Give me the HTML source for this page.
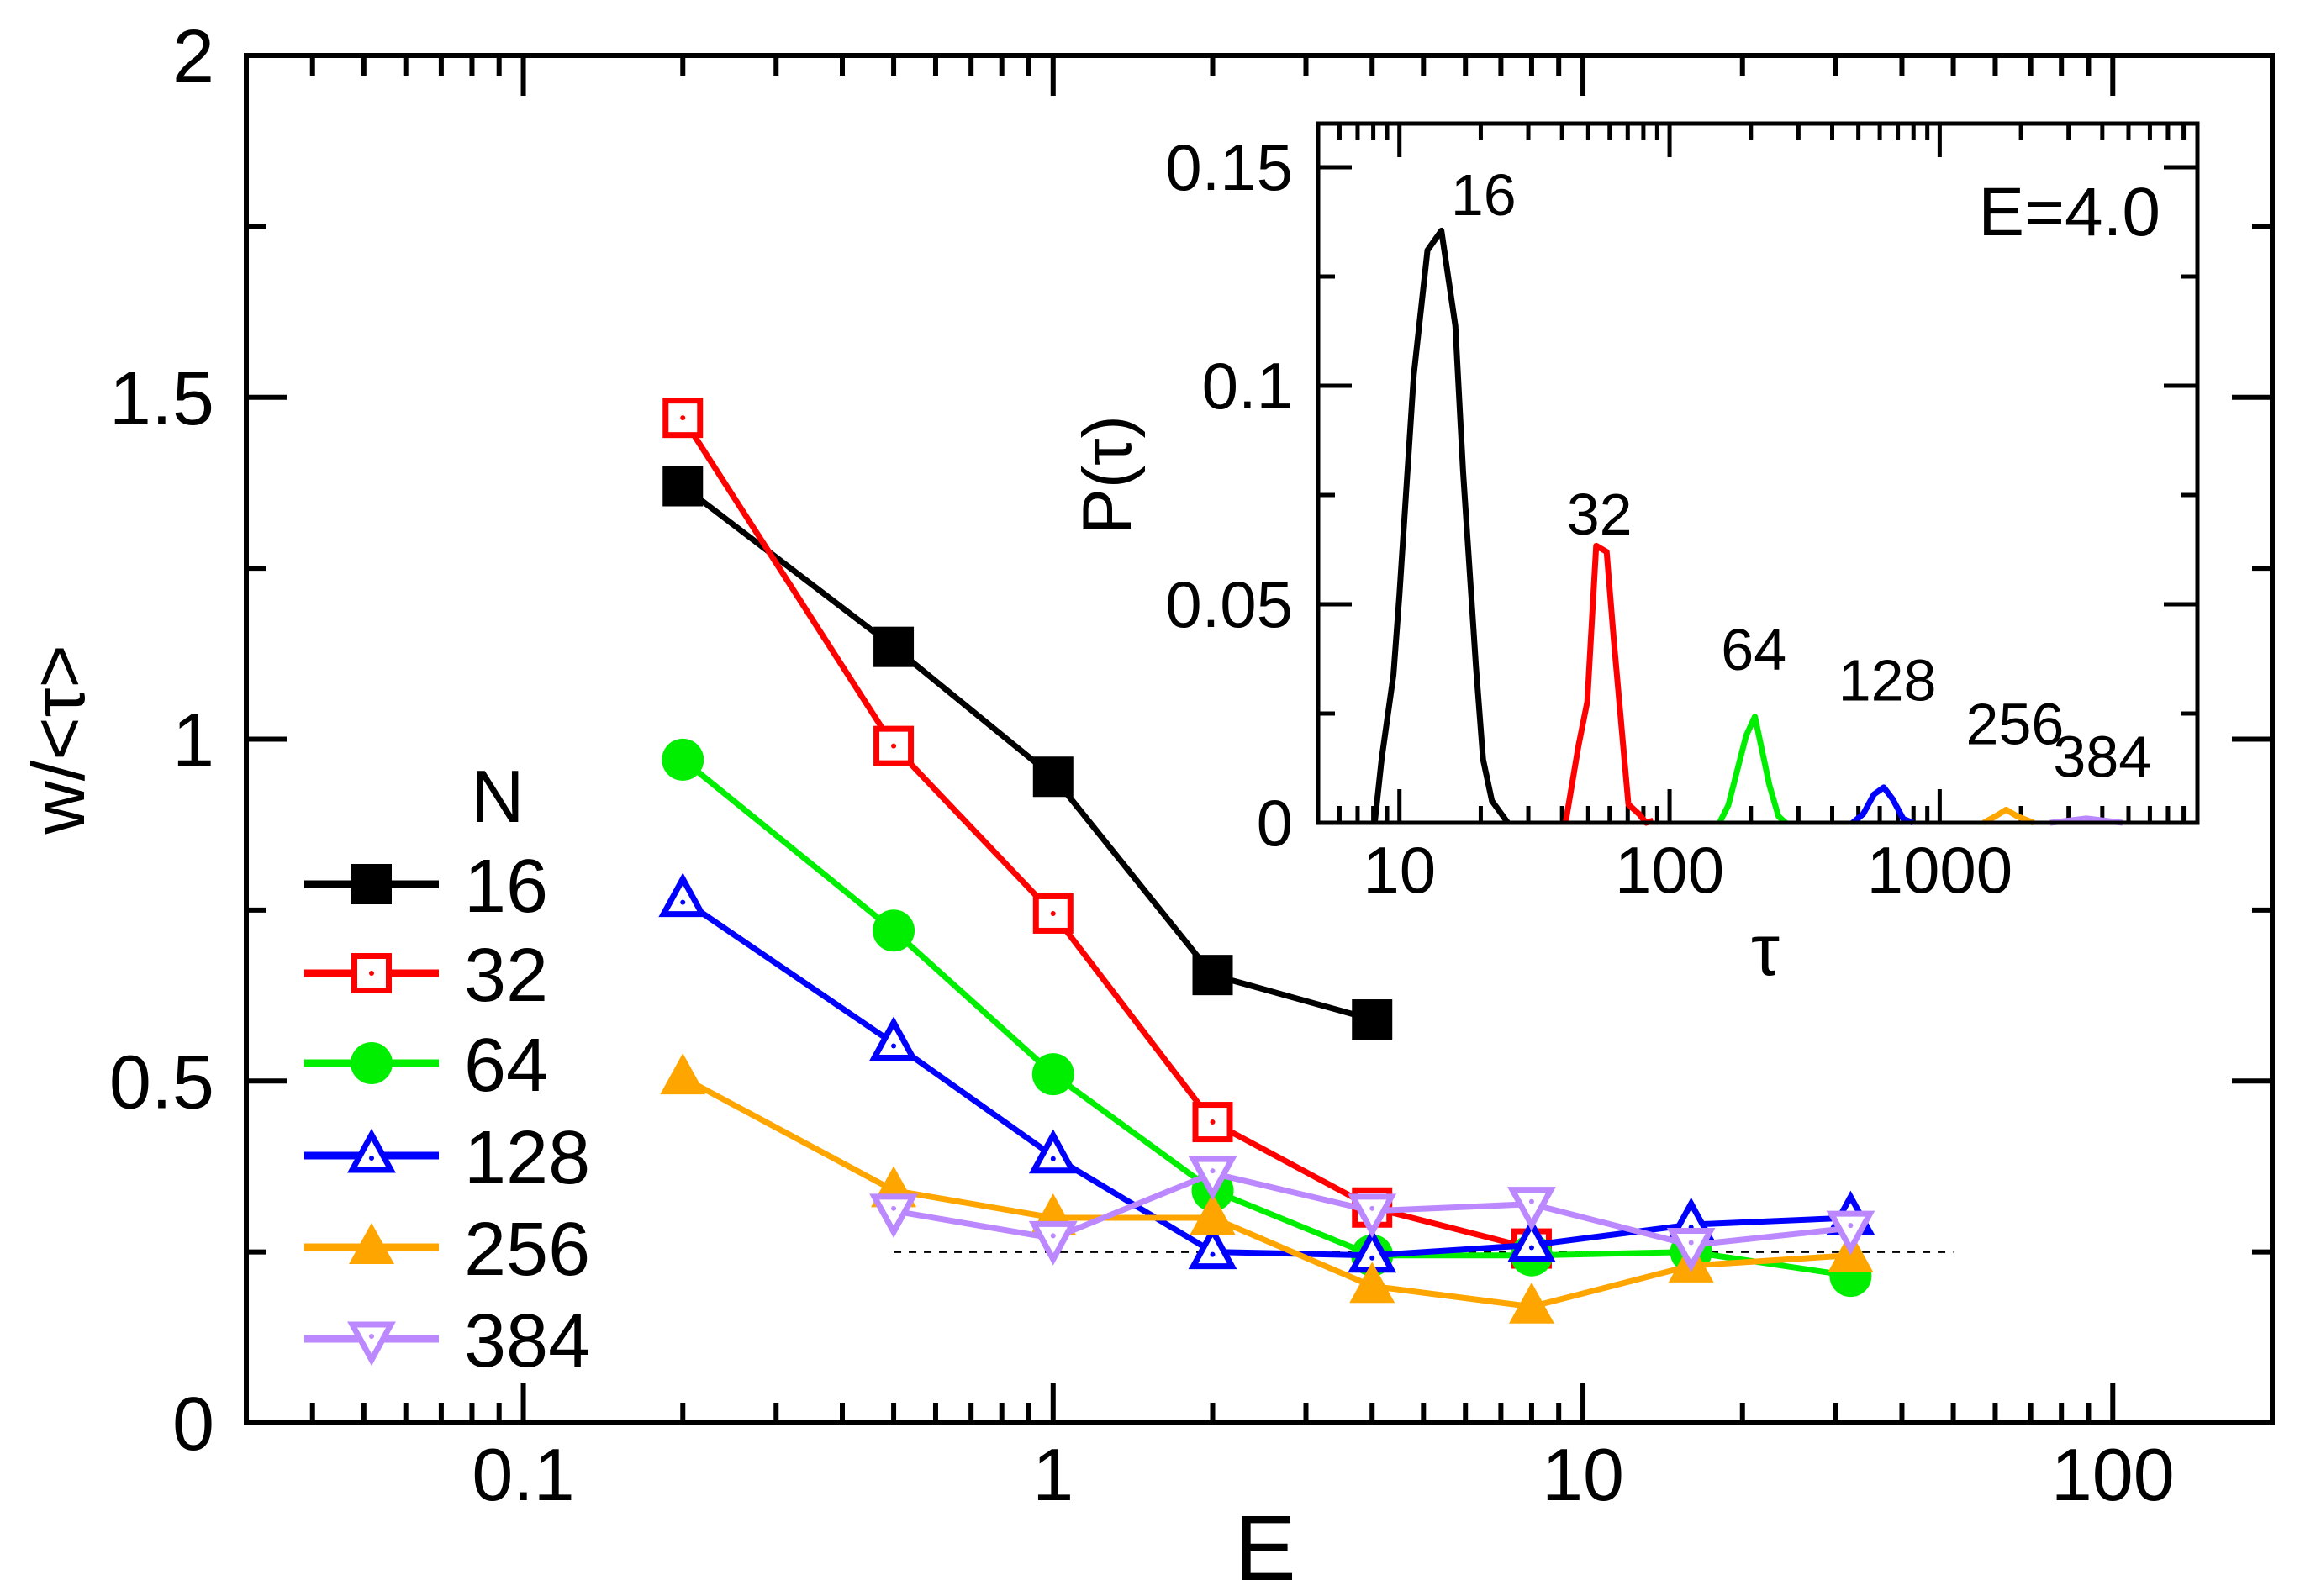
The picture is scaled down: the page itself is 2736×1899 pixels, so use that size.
<!DOCTYPE html>
<html><head><meta charset="utf-8">
<style>
html,body{margin:0;padding:0;background:#fff;}
svg{display:block;font-family:"Liberation Sans",sans-serif;}
</style></head>
<body>
<svg id="chart" width="2736" height="1899" viewBox="0 0 2736 1899" xmlns="http://www.w3.org/2000/svg">
<rect x="0" y="0" width="2736" height="1899" fill="#fff"/>
<g id="main"></g>
<g id="inset"></g>
</svg>
<script>
// ---- main chart data ----
const seriesNames = ["16","32","64","128","256","384"];
const colors = ["#000000","#ff0000","#00ee00","#0000ff","#ffa500","#bb88ff"];
const markers = ["sqf","sqo","circ","tri","trif","tridn"];
const xE16 = [0.2,0.5,1,2,4];
const y16 = [1.37,1.135,0.945,0.655,0.59];
const xE32 = [0.2,0.5,1,2,4,8];
const y32 = [1.47,0.99,0.745,0.44,0.315,0.255];
const xE64 = [0.2,0.5,1,2,4,8,16,32];
const y64 = [0.97,0.72,0.51,0.34,0.245,0.245,0.25,0.215];
const xE128 = [0.2,0.5,1,2,4,8,16,32];
const y128 = [0.765,0.555,0.39,0.25,0.245,0.26,0.29,0.30];
const xE256 = [0.2,0.5,1,2,4,8,16,32];
const y256 = [0.505,0.34,0.30,0.30,0.20,0.17,0.23,0.245];
const xE384 = [0.5,1,2,4,8,16,32];
const y384 = [0.31,0.27,0.365,0.31,0.32,0.26,0.285];
const refLineY = [0.25];
const refLineX = [0.5,50];
const xTickLabels = ["0.1","1","10","100"];
const xTickValues = [0.1,1,10,100];
const yTickValues = [0,0.5,1,1.5,2];
const yTickLabels = ["0","0.5","1","1.5","2"];

// ---- inset data ----
const tau16 = [8.1,8.6,9.5,10,11.3,12.7,14.3,16.1,17.2,19.2,20.4,22.0,25.2];
const p16 = [0,0.0148,0.0338,0.0522,0.1025,0.131,0.1355,0.1138,0.0804,0.0357,0.0145,0.005,0];
const tau32 = [41.2,46,49.6,53.5,58.5,62.1,70.4,77.1,81.8,87];
const p32 = [0,0.0176,0.0277,0.0634,0.062,0.0422,0.0042,0.002,0,0.0005];
const tau64 = [153,165,192,207,234,253,269];
const p64 = [0,0.004,0.0199,0.0243,0.0087,0.0015,0];
const tau128 = [476,521,571,621,670,733,798];
const p128 = [0,0.002,0.0065,0.0081,0.0054,0.0009,0];
const tau256 = [1455,1610,1763,1937,2229];
const p256 = [0,0.0015,0.003,0.0015,0];
const tau384 = [2563,3008,3493,4060,4760];
const p384 = [0,0.0005,0.001,0.0005,0];
const insetXTicks = [10,100,1000];
const insetXLabels = ["10","100","1000"];
const insetYTicks = [0,0.05,0.1,0.15];
const insetYLabels = ["0","0.05","0.1","0.15"];
const insetLabelTau = [15.5,55,205,640,1900,4000];
const insetLabelP = [0.139,0.066,0.035,0.028,0.018,0.0105];

const NS="http://www.w3.org/2000/svg";
function mk(tag, attrs, parent){const e=document.createElementNS(NS,tag);for(const k in attrs)e.setAttribute(k,attrs[k]);parent.appendChild(e);return e;}

// main axes
const L=293,R=2703,T=66,B=1693;
const xmin=Math.log10(0.03),xmax=Math.log10(200);
const X=v=>L+(Math.log10(v)-xmin)/(xmax-xmin)*(R-L);
const Y=v=>B-v/2*(B-T);
const main=document.getElementById('main');

for(let d=-2;d<=2;d++){for(let m=1;m<=9;m++){const v=m*Math.pow(10,d);if(v<0.03||v>200)continue;
 const len=m===1?48:24;const x=X(v);
 let t=mk('line',{x1:x,y1:B,x2:x,y2:B-len,stroke:'#000','stroke-width':6},main);
 
 t=mk('line',{x1:x,y1:T,x2:x,y2:T+len,stroke:'#000','stroke-width':6},main);
 }}
for(let i=0;i<=8;i++){const v=i*0.25;const len=i%2===0?48:24;const y=Y(v);
 let t=mk('line',{x1:L,y1:y,x2:L+len,y2:y,stroke:'#000','stroke-width':6},main);
 
 t=mk('line',{x1:R,y1:y,x2:R-len,y2:y,stroke:'#000','stroke-width':6},main);
 }
let fr=mk('rect',{x:L,y:T,width:R-L,height:B-T,fill:'none',stroke:'#000','stroke-width':6},main);

xTickValues.forEach((v,i)=>{const t=mk('text',{x:X(v),y:1785,'font-size':88,'text-anchor':'middle'},main);t.textContent=xTickLabels[i];
 });
yTickValues.forEach((v,i)=>{const t=mk('text',{x:255,y:Y(v)+32,'font-size':90,'text-anchor':'end'},main);t.textContent=yTickLabels[i];
 });
let xt=mk('text',{x:1505,y:1880,'font-size':110,'text-anchor':'middle'},main);xt.textContent='E';

let yt=mk('text',{x:0,y:0,'font-size':88,'text-anchor':'middle',transform:'translate(100,880) rotate(-90)'},main);yt.textContent='w/<τ>';


let rl=mk('line',{x1:X(refLineX[0]),y1:Y(refLineY[0]),x2:X(refLineX[1]),y2:Y(refLineY[0]),stroke:'#000','stroke-width':2.5,'stroke-dasharray':'9,9'},main);


function marker(type,cx,cy,col,g){
 const s=24;let e;
 if(type==='sqf'){e=mk('rect',{x:cx-s,y:cy-s,width:2*s,height:2*s,fill:col},g);}
 else if(type==='sqo'){e=mk('rect',{x:cx-s+3.5,y:cy-s+3.5,width:2*s-7,height:2*s-7,fill:'#fff',stroke:col,'stroke-width':7},g);mk('circle',{cx:cx,cy:cy,r:3,fill:col},g);}
 else if(type==='circ'){e=mk('circle',{cx:cx,cy:cy,r:25,fill:col},g);}
 else if(type==='tri'){e=mk('polygon',{points:`${cx},${cy-25} ${cx-23},${cy+17} ${cx+23},${cy+17}`,fill:'#fff',stroke:col,'stroke-width':7},g);mk('circle',{cx:cx,cy:cy+3,r:3,fill:col},g);}
 else if(type==='trif'){e=mk('polygon',{points:`${cx},${cy-29} ${cx-27},${cy+20} ${cx+27},${cy+20}`,fill:col},g);}
 else {e=mk('polygon',{points:`${cx},${cy+25} ${cx-23},${cy-17} ${cx+23},${cy-17}`,fill:'#fff',stroke:col,'stroke-width':7},g);mk('circle',{cx:cx,cy:cy-3,r:3,fill:col},g);}
 
}
const xs=[xE16,xE32,xE64,xE128,xE256,xE384], ys=[y16,y32,y64,y128,y256,y384];
for(let s=0;s<6;s++){
 const g=mk('g',{},main);
 
 const pts=xs[s].map((x,i)=>X(x)+','+Y(ys[s][i])).join(' ');
 const pl=mk('polyline',{points:pts,fill:'none',stroke:colors[s],'stroke-width':7},g);
 
 xs[s].forEach((x,i)=>marker(markers[s],X(x),Y(ys[s][i]),colors[s],g));
}
const lg=mk('g',{},main);

let ln=mk('text',{x:560,y:978,'font-size':88},lg);ln.textContent='N';

const legY=[1052,1158,1265,1375,1484,1593];
for(let s=0;s<6;s++){
 const eg=mk('g',{},lg);
 
 mk('line',{x1:362,y1:legY[s],x2:522,y2:legY[s],stroke:colors[s],'stroke-width':9},eg);
 marker(markers[s],442,legY[s],colors[s],eg);
 const t=mk('text',{x:552,y:legY[s]+33,'font-size':90},eg);t.textContent=seriesNames[s];
}

// ---- inset ----
const inset=document.getElementById('inset');
const iL=1568,iR=2614,iT=147,iB=979;
const ixmin=Math.log10(5),ixmax=Math.log10(9000);
const IX=v=>iL+(Math.log10(v)-ixmin)/(ixmax-ixmin)*(iR-iL);
const IY=v=>iB-v/0.16*(iB-iT);
mk('rect',{x:iL,y:iT,width:iR-iL,height:iB-iT,fill:'#fff'},inset);
for(let d=0;d<=3;d++){for(let m=1;m<=9;m++){const v=m*Math.pow(10,d);if(v<5||v>9000)continue;
 const len=m===1?40:20;const x=IX(v);
 let t=mk('line',{x1:x,y1:iB,x2:x,y2:iB-len,stroke:'#000','stroke-width':5},inset);
 
 t=mk('line',{x1:x,y1:iT,x2:x,y2:iT+len,stroke:'#000','stroke-width':5},inset);
 }}
for(let i=0;i<=6;i++){const v=i*0.025;const len=i%2===0?40:20;const y=IY(v);
 let t=mk('line',{x1:iL,y1:y,x2:iL+len,y2:y,stroke:'#000','stroke-width':5},inset);
 
 t=mk('line',{x1:iR,y1:y,x2:iR-len,y2:y,stroke:'#000','stroke-width':5},inset);
 }
insetXTicks.forEach((v,i)=>{const t=mk('text',{x:IX(v),y:1062,'font-size':78,'text-anchor':'middle'},inset);t.textContent=insetXLabels[i];
 });
insetYTicks.forEach((v,i)=>{const t=mk('text',{x:1538,y:IY(v)+27,'font-size':78,'text-anchor':'end'},inset);t.textContent=insetYLabels[i];
 });
let ixt=mk('text',{x:2100,y:1160,'font-size':86,'text-anchor':'middle'},inset);ixt.textContent='τ';

let iyt=mk('text',{x:0,y:0,'font-size':82,'text-anchor':'middle',transform:'translate(1345,565) rotate(-90)'},inset);iyt.textContent='P(τ)';

const taus=[tau16,tau32,tau64,tau128,tau256,tau384], ps=[p16,p32,p64,p128,p256,p384];
for(let s=0;s<6;s++){
 const pts=taus[s].map((x,i)=>IX(x)+','+IY(ps[s][i])).join(' ');
 const pl=mk('polyline',{points:pts,fill:'none',stroke:colors[s],'stroke-width':7,'stroke-linejoin':'round'},inset);
 
 const t=mk('text',{x:IX(insetLabelTau[s]),y:IY(insetLabelP[s]),'font-size':70,'text-anchor':s===0?'start':'middle'},inset);t.textContent=seriesNames[s];
 
}
let ifr=mk('rect',{x:iL,y:iT,width:iR-iL,height:iB-iT,fill:'none',stroke:'#000','stroke-width':5},inset);

let ie=mk('text',{x:2570,y:280,'font-size':82,'text-anchor':'end'},inset);ie.textContent='E=4.0';

</script>
</body></html>
